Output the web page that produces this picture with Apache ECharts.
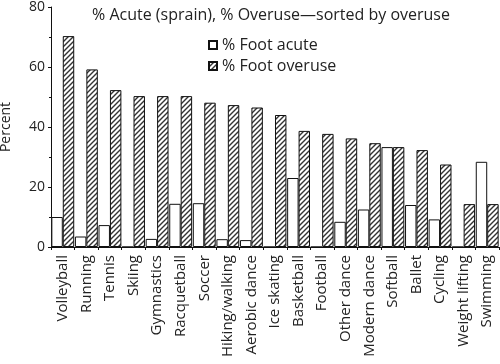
<!DOCTYPE html>
<html>
<head>
<meta charset="utf-8">
<script src="https://cdn.jsdelivr.net/npm/echarts@6/dist/echarts.min.js"></script>
<style>html,body{margin:0;padding:0;background:#fff;}#c{width:500px;height:364px;}</style>
</head>
<body>
<div id="c"></div>
<script>
const categories = ["Volleyball","Running","Tennis","Skiing","Gymnastics","Racquetball","Soccer","Hiking/walking","Aerobic dance","Ice skating","Basketball","Football","Other dance","Modern dance","Softball","Ballet","Cycling","Weight lifting","Swimming"];
const footAcute = [10,3.5,7.3,0,2.7,14.4,14.6,2.6,2.3,0,23,0,8.4,12.5,33.3,14,9.2,0,28.4];
const footOveruse = [70.3,59.2,52.3,50.3,50.3,50.3,48.1,47.3,46.5,44,38.7,37.7,36.2,34.6,33.3,32.3,27.5,14.3,14.3];
const yTicks = [0,20,40,60,80];

function hatch(){
  const s = 5;
  const cv = document.createElement('canvas');
  cv.width = s; cv.height = s;
  const g = cv.getContext('2d');
  g.fillStyle = '#fff'; g.fillRect(0,0,s,s);
  g.strokeStyle = '#333'; g.lineWidth = 1.4;
  g.beginPath();
  g.moveTo(0,s); g.lineTo(s,0);
  g.moveTo(-1,1); g.lineTo(1,-1);
  g.moveTo(s-1,s+1); g.lineTo(s+1,s-1);
  g.stroke();
  return cv;
}
const font = 'Open Sans';
const chart = echarts.init(document.getElementById('c'), null, {renderer:'canvas'});
chart.setOption({
  animation:false,
  backgroundColor:'#fff',
  title:{text:'% Acute (sprain), % Overuse\u2014sorted by overuse', left:87, top:2,
    textStyle:{fontFamily:font,fontSize:16,fontWeight:'normal',color:'#222'}},
  legend:{orient:'vertical', left:203, top:34, itemWidth:8, itemHeight:8, itemGap:5, padding:[3,5],
    textStyle:{fontFamily:font,fontSize:16,color:'#222'},
    data:[{name:'% Foot acute',icon:'rect'},{name:'% Foot overuse',icon:'rect'}]},
  grid:{left:51, right:1, top:7, bottom:117, containLabel:false, outerBoundsMode:'none'},
  xAxis:{type:'category', data:categories,
    axisLine:{lineStyle:{color:'#111',width:1}},
    axisTick:{show:true,length:3,lineStyle:{color:'#111'}},
    axisLabel:{rotate:90, interval:0, margin:8, fontFamily:font, fontSize:15, color:'#222'}},
  yAxis:{type:'value', min:yTicks[0], max:yTicks[yTicks.length-1], interval:20,
    name:'Percent', nameLocation:'middle', nameGap:38, nameMoveOverlap:false,
    nameTextStyle:{fontFamily:font,fontSize:14,color:'#222'},
    splitLine:{show:false},
    axisLine:{show:true,lineStyle:{color:'#111',width:1}},
    axisTick:{show:true,length:3,lineStyle:{color:'#111'}},
    minorTick:{show:true,splitNumber:2,length:2,lineStyle:{color:'#111'}},
    axisLabel:{fontFamily:font,fontSize:14,color:'#222',margin:6}},
  series:[
    {name:'% Foot acute', type:'bar', data:footAcute, barGap:'0%', barCategoryGap:'3%',
      itemStyle:{color:'#fff', borderColor:'#111', borderWidth:1}},
    {name:'% Foot overuse', type:'bar', data:footOveruse, barGap:'0%', barCategoryGap:'3%',
      itemStyle:{color:{image:hatch(), repeat:'repeat'}, borderColor:'#111', borderWidth:1}}
  ]
});
</script>
</body>
</html>
